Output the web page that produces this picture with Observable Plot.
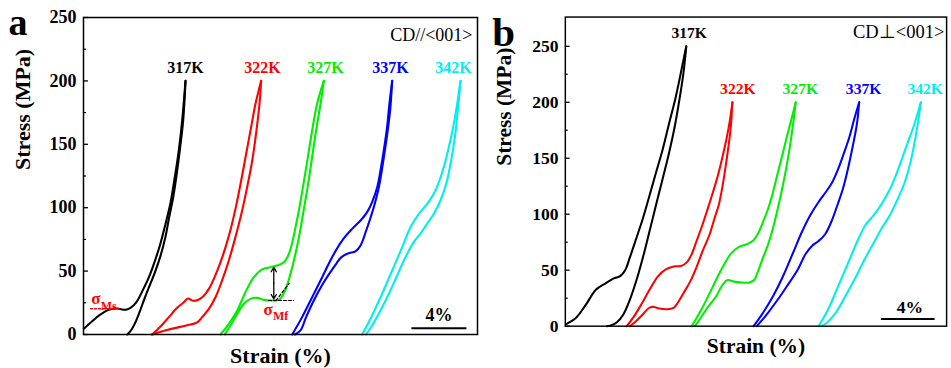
<!DOCTYPE html>
<html><head><meta charset="utf-8">
<script src="https://cdn.jsdelivr.net/npm/d3@7"></script>
<script src="https://cdn.jsdelivr.net/npm/@observablehq/plot@0.6"></script>
<style>
html,body{margin:0;padding:0;background:#fff;overflow:hidden;width:951px;height:368px;}
#wrap{position:relative;width:951px;height:368px;overflow:hidden;}
#pa{position:absolute;left:0;top:0;}
#pb{position:absolute;left:480px;top:0;}
</style></head><body>
<div id="wrap"><div id="pa"></div><div id="pb"></div></div>
<script>
// ---------- data ----------
const temps = ["317K", "322K", "327K", "337K", "342K"];
const colors = ["#000000", "#ff0000", "#00ee00", "#0000ff", "#00eeee"];
const yTicksMajor = [0, 50, 100, 150, 200, 250];
const yTicksMinor = [25, 75, 125, 175, 225];

// panel a (CD//<001>) : [strain %, stress MPa]
const a317Load = [[0.02,4.5],[0.63,10.5],[1.24,15.8],[1.84,19.5],[2.45,20.5],[3.05,19.5],[3.42,21],[3.85,25.5],[4.27,34],[4.75,45],[5.16,57],[5.55,70],[5.96,87],[6.33,104],[6.64,124],[6.93,145],[7.18,169],[7.42,200]];
const a317Unload = [[7.42,200],[7.25,169],[7.0,145],[6.81,129],[6.52,108],[6.23,92.5],[5.96,77],[5.6,62],[5.16,48],[4.75,37],[4.39,27],[4.02,16],[3.66,7],[3.37,2],[3.18,0]];
const a322Load = [[4.99,0],[5.6,6.3],[6.21,13.7],[6.81,21],[7.3,25.5],[7.59,28.4],[7.9,26.8],[8.27,27.1],[8.7,30],[9.12,36],[9.48,43.9],[9.92,55.7],[10.33,68.9],[10.74,84.6],[11.13,103],[11.47,121.5],[11.83,142.5],[12.19,163.5],[12.51,182],[12.92,200]];
const a322Unload = [[12.92,200],[12.8,182],[12.58,161],[12.27,137],[11.9,116],[11.54,97.8],[11.05,76.8],[10.57,58.4],[10.08,42.6],[9.6,29.4],[9.12,20.2],[8.63,13.7],[8.27,9.5],[7.78,7.8],[7.05,6.0],[6.08,3.5],[4.99,0]];
const a327Load = [[9.96,0],[10.57,8.4],[11.18,18.9],[11.78,33.4],[12.39,45.2],[12.99,51.3],[13.6,53.1],[14.08,54.4],[14.57,57],[14.81,60.5],[15.13,70.2],[15.42,84.6],[15.71,100.4],[16.0,118.8],[16.32,139.9],[16.63,160.9],[16.99,181.9],[17.48,200]];
const a327Unload = [[17.48,200],[17.24,182],[16.92,161],[16.63,140],[16.34,118.8],[16.05,100.4],[15.76,82],[15.47,66.2],[15.18,53.1],[14.88,41.3],[14.57,32.6],[14.21,27.3],[13.72,26.8],[13.12,27.3],[12.63,28.9],[12.15,28.1],[11.66,24.2],[11.18,16.3],[10.69,7.1],[10.28,0]];
const a337Load = [[15.18,0],[15.9,13.7],[16.63,29.4],[17.36,45.2],[18.08,61],[18.81,74.1],[19.54,83.3],[20.15,89.9],[20.63,96.5],[20.99,104.4],[21.36,116.2],[21.6,129.3],[21.84,145.1],[22.08,163.5],[22.25,182],[22.45,200]];
const a337Unload = [[22.45,200],[22.3,176.7],[22.06,155.6],[21.77,134.6],[21.48,116.2],[21.04,97.8],[20.56,82],[20.15,70.2],[19.78,65.5],[19.3,64.1],[18.76,61],[18.21,53.1],[17.41,40],[16.75,26.8],[16.19,13.7],[15.78,3.2],[15.37,0]];
const a342Load = [[20.27,0],[20.99,15],[21.72,32.1],[22.45,50.5],[23.18,68.9],[23.78,84.6],[24.39,95.2],[24.99,103],[25.6,113.6],[26.13,129.3],[26.57,147.7],[26.93,166.1],[27.18,182],[27.42,200]];
const a342Unload = [[27.42,200],[27.22,176.7],[27.01,155.6],[26.74,137.2],[26.38,118.8],[25.96,105.7],[25.48,95.2],[24.99,87.3],[24.58,80.7],[24.02,72.8],[23.42,61],[22.81,46.5],[22.21,32.1],[21.6,18.9],[20.99,7.1],[20.56,0]];

// panel b (CD⊥<001>)
const b317Load = [[0.1,2],[0.82,7.8],[1.55,19.5],[2.28,32.5],[3.0,38.3],[3.61,42.7],[4.1,44.7],[4.46,49.9],[4.82,61.6],[5.31,79],[5.79,96.4],[6.28,116.7],[6.76,137],[7.25,157.4],[7.73,180.6],[8.22,203.8],[8.63,227],[9.02,250]];
const b317Unload = [[9.02,250],[8.82,227],[8.53,203.8],[8.15,177.7],[7.73,154.5],[7.25,131.2],[6.76,108],[6.28,84.8],[5.79,61.6],[5.31,41.2],[4.82,23.8],[4.34,10.7],[3.85,3.5],[3.49,1.2],[3.1,0]];
const b322Load = [[4.58,0],[5.07,7.8],[5.67,19.5],[6.28,32.5],[6.88,44.1],[7.49,50.8],[8.1,53.4],[8.63,53.7],[9.07,57.2],[9.43,64.5],[9.79,76.1],[10.23,90.6],[10.59,103.7],[11.01,119.6],[11.37,134.1],[11.73,151.6],[12.05,169],[12.29,185],[12.46,200]];
const b322Unload = [[12.46,200],[12.34,177.7],[12.1,154.5],[11.73,125.4],[11.44,108],[11.13,96.4],[10.76,81.9],[10.25,67.4],[9.79,52.8],[9.31,39.8],[8.82,29.6],[8.39,20.9],[8.1,16.6],[7.61,15.1],[7.01,15.7],[6.52,17.4],[6.21,16],[5.79,10.7],[5.31,4.9],[4.82,0]];
const b327Load = [[9.43,0],[10.16,15.1],[10.89,32.5],[11.61,49.9],[12.34,64.5],[12.95,70.8],[13.55,73.2],[14.04,76.7],[14.4,83.3],[14.76,93.5],[15.13,105.1],[15.49,119.6],[15.85,137],[16.22,154.5],[16.58,171.9],[16.9,186.4],[17.19,200]];
const b327Unload = [[17.19,200],[16.99,180.6],[16.75,160.3],[16.46,140],[16.17,122.5],[15.85,105.1],[15.49,87.7],[15.13,73.2],[14.76,61.6],[14.4,49.9],[14.08,41.2],[13.67,38.9],[13.19,38.9],[12.58,39.8],[12.1,41.2],[11.73,36.9],[11.25,26.7],[10.52,15.1],[10.04,6.4],[9.67,0]];
const b337Load = [[14.04,0],[14.76,12.2],[15.49,26.7],[16.22,44.1],[16.95,64.5],[17.67,84.8],[18.28,99.3],[18.89,110.9],[19.42,119.6],[19.9,128.3],[20.34,140],[20.78,154.5],[21.19,169],[21.55,185],[21.92,200]];
const b337Unload = [[21.92,200],[21.75,180.6],[21.43,160.3],[21.07,140],[20.7,122.5],[20.29,108],[19.85,93.5],[19.37,81.9],[18.89,76.1],[18.4,71.7],[17.92,64.5],[17.31,49.9],[16.51,35.4],[15.85,23.8],[15.13,12.2],[14.64,4.9],[14.28,0]];
const b342Load = [[18.89,0],[19.61,15.1],[20.34,35.4],[21.07,55.7],[21.79,76.1],[22.4,90.6],[23.01,99.3],[23.61,109.5],[24.22,122.5],[24.82,140],[25.43,160.3],[26.04,180.6],[26.52,200]];
const b342Unload = [[26.52,200],[26.21,174.8],[25.79,148.7],[25.31,128.3],[24.75,112.4],[24.22,99.3],[23.61,87.7],[23.01,74.6],[22.28,58.6],[21.55,41.2],[20.82,25.3],[20.1,10.7],[19.49,2.9],[19.13,0]];

// temperature label positions [strain, stress]
const aLabelX = [7.42, 13.02, 17.6, 22.33, 26.91];
const aLabelY = [206.5, 206.5, 206.5, 206.5, 206.5];
const bLabelX = [9.24, 12.87, 17.53, 22.25, 26.84];
const bLabelY = [257.8, 207.3, 207.3, 207.3, 207.3];

// 4% scale bars: [x1, x2, y], label position [x, y]
const aBar = [23.85, 27.85, 5.0];
const aBarLabel = [25.85, 10.3];
const bBar = [23.54, 27.54, 6.4];
const bBarLabel = [25.7, 12.2];

// annotations in panel a
const msLine = [[0.51, 20.3], [2.55, 20.3]];
const msText = [0.56, 23.7];
const mfLine = [[13.45, 26.8], [15.27, 26.8]];
const mfTangent = [[14.0, 26.8], [14.95, 40.2]];
const mfArrow = [13.84, 53, 28];
const mfText = [13.09, 15];

// ---------- build ----------
const font = '"Liberation Serif", "Times New Roman", serif';

function rows(sets) {
  const out = [];
  sets.forEach(([temp, load, unload]) => {
    load.forEach(([s, v]) => out.push({s, v, temp, key: temp + "L"}));
    unload.forEach(([s, v]) => out.push({s, v, temp, key: temp + "U"}));
  });
  return out;
}

const rowsA = rows([["317K", a317Load, a317Unload], ["322K", a322Load, a322Unload], ["327K", a327Load, a327Unload], ["337K", a337Load, a337Unload], ["342K", a342Load, a342Unload]]);
const rowsB = rows([["317K", b317Load, b317Unload], ["322K", b322Load, b322Unload], ["327K", b327Load, b327Unload], ["337K", b337Load, b337Unload], ["342K", b342Load, b342Unload]]);

function common({data, labelX, labelY, bar, barLabel, letter, letterDy, letterSize, ylabDx}) {
  return [
    Plot.ruleY(yTicksMajor, {x1: () => 0, x2: () => 0.36, y: d => d, strokeWidth: 1.3}),
    Plot.ruleY(yTicksMinor, {x1: () => 0, x2: () => 0.22, y: d => d, strokeWidth: 1.2}),
    Plot.axisY(yTicksMajor, {tickSize: 0, tickPadding: 7, fontSize: 18, fontWeight: "bold", label: null, tickFormat: d => String(d)}),
    Plot.line(data, {x: "s", y: "v", z: "key", stroke: "temp", strokeWidth: 2.1, curve: "catmull-rom", strokeLinejoin: "round"}),
    Plot.text(temps, {x: (d, i) => labelX[i], y: (d, i) => labelY[i], text: d => d, fill: d => d, fontSize: 16, fontWeight: "bold", lineAnchor: "bottom"}),
    Plot.link([bar], {x1: d => d[0], x2: d => d[1], y1: d => d[2], y2: d => d[2], stroke: "black", strokeWidth: 2}),
    Plot.text(["4%"], {x: () => barLabel[0], y: () => barLabel[1], text: d => d, fontSize: 18, fontWeight: "bold", lineAnchor: "bottom"}),
    Plot.text([letter], {frameAnchor: "top-left", dx: -75, dy: letterDy, text: d => d, fontSize: letterSize, fontWeight: "bold", textAnchor: "start", lineAnchor: "bottom"}),
    Plot.text(["Stress (MPa)"], {frameAnchor: "left", dx: ylabDx, dy: -6, rotate: -90, text: d => d, fontSize: 22, fontWeight: "bold", lineAnchor: "middle"}),
    Plot.text(["Strain (%)"], {frameAnchor: "bottom", dy: 28, text: d => d, fontSize: 22, fontWeight: "bold", lineAnchor: "bottom"}),
    Plot.frame({stroke: "black", strokeWidth: 1.5})
  ];
}

const plotA = Plot.plot({
  width: 480, height: 368,
  marginLeft: 83, marginRight: 3, marginTop: 17, marginBottom: 34,
  x: {domain: [0, 28.655], axis: null},
  y: {domain: [0, 250]},
  color: {domain: temps, range: colors},
  style: {fontFamily: font, background: "white", overflow: "visible", color: "black"},
  marks: [
    ...common({data: rowsA, labelX: aLabelX, labelY: aLabelY, bar: aBar, barLabel: aBarLabel, letter: "a", letterDy: 17, letterSize: 38, ylabDx: -61}),
    Plot.text(["CD//<001>"], {frameAnchor: "top-right", dx: -5, dy: 23, text: d => d, fontSize: 18, textAnchor: "end", lineAnchor: "bottom"}),
    // sigma Ms
    Plot.line(msLine, {x: d => d[0], y: d => d[1], stroke: "#ff0000", strokeWidth: 1.3, strokeDasharray: "2,2"}),
    Plot.text(["σ"], {x: () => msText[0], y: () => msText[1], text: d => d, fill: "#ff0000", fontSize: 17, fontWeight: "bold", textAnchor: "start", lineAnchor: "bottom"}),
    Plot.text(["Ms"], {x: () => msText[0], y: () => msText[1], dx: 9.5, dy: 6, text: d => d, fill: "#ff0000", fontSize: 12, fontWeight: "bold", textAnchor: "start", lineAnchor: "bottom"}),
    // sigma Mf
    Plot.line(mfLine, {x: d => d[0], y: d => d[1], stroke: "black", strokeWidth: 1.2, strokeDasharray: "3,2"}),
    Plot.line(mfTangent, {x: d => d[0], y: d => d[1], stroke: "black", strokeWidth: 1.2, strokeDasharray: "3,2"}),
    Plot.arrow([mfArrow], {x1: d => d[0], x2: d => d[0], y1: d => (d[1] + d[2]) / 2, y2: d => d[1], stroke: "black", strokeWidth: 1.3, headLength: 6}),
    Plot.arrow([mfArrow], {x1: d => d[0], x2: d => d[0], y1: d => (d[1] + d[2]) / 2, y2: d => d[2], stroke: "black", strokeWidth: 1.3, headLength: 6}),
    Plot.text(["σ"], {x: () => mfText[0], y: () => mfText[1], text: d => d, fill: "#ff0000", fontSize: 17, fontWeight: "bold", textAnchor: "start", lineAnchor: "bottom"}),
    Plot.text(["Mf"], {x: () => mfText[0], y: () => mfText[1], dx: 9.5, dy: 5, text: d => d, fill: "#ff0000", fontSize: 12, fontWeight: "bold", textAnchor: "start", lineAnchor: "bottom"})
  ]
});

const plotB = Plot.plot({
  width: 483, height: 368,
  marginLeft: 87, marginRight: 5, marginTop: 17, marginBottom: 34,
  x: {domain: [0, 28.44], axis: null},
  y: {domain: [0, 276.1]},
  color: {domain: temps, range: colors},
  style: {fontFamily: font, background: "white", overflow: "visible", color: "black"},
  marks: [
    ...common({data: rowsB, labelX: bLabelX, labelY: bLabelY, bar: bBar, barLabel: bBarLabel, letter: "b", letterDy: 30, letterSize: 42, ylabDx: -63}),
    Plot.text(["CD⊥<001>"], {frameAnchor: "top-left", dx: 295, dy: 21, text: d => d, fontSize: 19, textAnchor: "start", lineAnchor: "bottom"})
  ]
});

document.getElementById("pa").appendChild(plotA);
document.getElementById("pb").appendChild(plotB);
</script>
</body></html>
